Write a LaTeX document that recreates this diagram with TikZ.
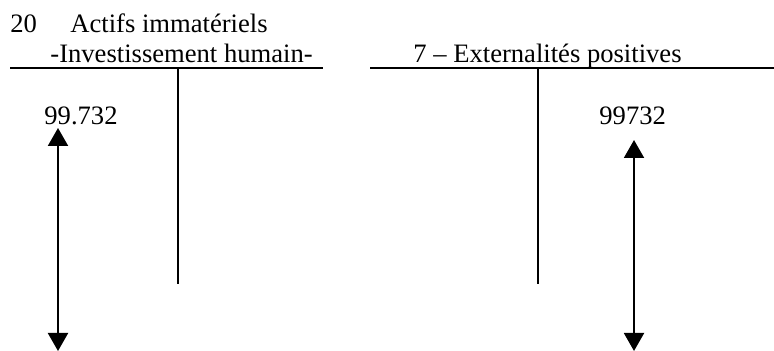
\documentclass[tikz,border=0pt]{standalone}
\usepackage{fontspec}
\setmainfont{Liberation Serif}
\usetikzlibrary{arrows.meta}
\begin{document}
\begin{tikzpicture}[x=0.5pt,y=-0.5pt,
  lbl/.style={anchor=base west,inner sep=0pt,font=\fontsize{13.3}{16}\selectfont},
  rule/.style={line width=1pt},
  dbl/.style={line width=1pt,{Triangle[width=10pt,length=9pt]}-{Triangle[width=10pt,length=9pt]}}]
\useasboundingbox (0,0) rectangle (774,351);
% texts
\node[lbl] (n20) at (10,33) {20};
\node[lbl] (t1) at (70,33) {Actifs immatériels};
\node[lbl] (t2) at (50,63) {-Investissement humain-};
\node[lbl] (t3) at (413,63) {7 – Externalités positives};
\node[lbl] (v1) at (44,125) {99.732};
\node[lbl] (v2) at (599,125) {99732};
% T accounts
\coordinate (l1) at (10,68);
\coordinate (l2) at (323,68);
\coordinate (l3) at (178,68);
\coordinate (l4) at (178,284);
\coordinate (r1) at (370,68);
\coordinate (r2) at (774,68);
\coordinate (r3) at (538,68);
\coordinate (r4) at (538,284);
\draw[rule] (l1) -- (l2);
\draw[rule] (l3) -- (l4);
\draw[rule] (r1) -- (r2);
\draw[rule] (r3) -- (r4);
% arrows
\coordinate (a1) at (58,128);
\coordinate (a2) at (58,351);
\coordinate (b1) at (634,140);
\coordinate (b2) at (634,351);
\draw[dbl] (a1) -- (a2);
\draw[dbl] (b1) -- (b2);
\end{tikzpicture}
\end{document}
